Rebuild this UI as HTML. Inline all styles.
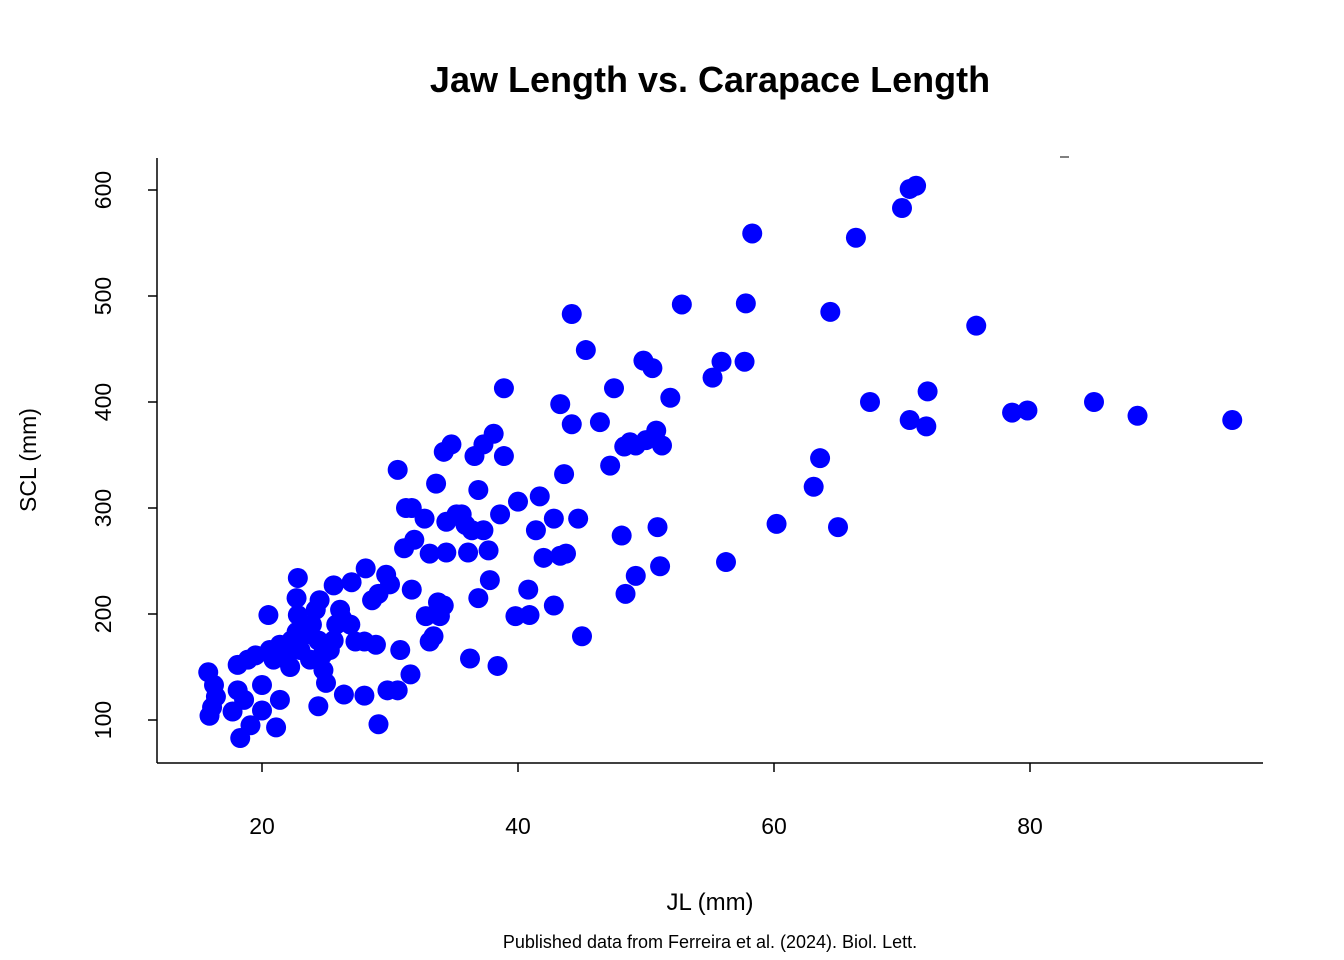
<!DOCTYPE html>
<html><head><meta charset="utf-8"><style>
html,body{margin:0;padding:0;background:#fff;}
svg{display:block;font-family:"Liberation Sans",Arial,sans-serif;}
</style></head><body>
<svg id="chart" width="1344" height="960" viewBox="0 0 1344 960" xmlns="http://www.w3.org/2000/svg">
<rect width="1344" height="960" fill="#fff"/>
<text x="710" y="92" text-anchor="middle" font-size="36" font-weight="bold">Jaw Length vs. Carapace Length</text>
<line x1="157" y1="763" x2="1263" y2="763" stroke="#000" stroke-width="1.5"/>
<line x1="157" y1="158" x2="157" y2="763" stroke="#000" stroke-width="1.5"/>
<line x1="1060" y1="157" x2="1069" y2="157" stroke="#000" stroke-width="1"/>
<g id="ticks"></g>
<g id="points"></g>
<text transform="translate(36,460) rotate(-90)" text-anchor="middle" font-size="23">SCL (mm)</text>
<text x="710" y="910" text-anchor="middle" font-size="24">JL (mm)</text>
<text x="710" y="948" text-anchor="middle" font-size="18">Published data from Ferreira et al. (2024). Biol. Lett.</text>
</svg>
<script>
const xTicks = [20, 40, 60, 80];
const yTicks = [100, 200, 300, 400, 500, 600];
const jl = [15.8,16.25,16.4,16.1,15.9,17.7,18.3,19.1,18.6,18.1,18.1,18.9,19.5,20,20,21.1,21.4,20.5,20.6,20.9,21.4,21.9,22.2,22.3,22.7,22.8,22.7,22.8,23.0,23.3,23.75,23.9,24.2,24.4,24.5,24.7,24.8,25.3,25.6,24.4,25.8,25.0,25.6,26.1,26.25,26.4,26.9,27.0,27.3,28.0,28.0,28.1,28.9,29.1,28.6,29.1,29.7,29.8,30.0,30.6,30.8,31.6,31.7,30.6,31.25,31.7,31.1,31.9,32.7,32.8,33.1,33.1,33.4,33.6,33.75,33.9,34.2,34.2,34.4,34.4,34.8,35.2,35.6,35.9,36.1,36.25,36.4,36.6,36.9,36.9,37.3,37.3,37.7,37.8,38.1,38.4,38.6,38.9,38.9,40,39.8,40.8,40.9,41.4,41.7,42.0,42.8,42.8,43.3,43.3,43.6,43.75,44.2,44.2,44.7,45,45.3,46.4,47.2,47.5,48.1,48.3,48.4,48.75,49.2,49.2,49.8,50,50.5,50.8,50.9,51.1,51.25,51.9,52.8,55.2,55.9,56.25,57.7,57.8,58.3,60.2,63.1,63.6,65,64.4,66.4,67.5,70,70.6,71.1,70.6,71.9,72.0,75.8,78.6,79.8,85,88.4,95.8,22.7,22.2];
const scl = [145,133,122,112,104,108,83,95,119,128,152,157,161,133,109,93,119,199,166,157,171,157,166,175,183,234,215,199,166,180,157,190,204,175,213,161,147,166,175,113,190,135,227,204,196,124,190,230,174,174,123,243,171,96,213,219,237,128,228,128,166,143,223,336,300,300,262,270,290,198,257,174,179,323,211,198,353,208,287,258,360,294,294,284,258,158,279,349,317,215,360,279,260,232,370,151,294,349,413,306,198,223,199,279,311,253,290,208,398,255,332,257,483,379,290,179,449,381,340,413,274,358,219,362,359,236,439,364,432,373,282,245,359,404,492,423,438,249,438,493,559,285,320,347,282,485,555,400,583,601,604,383,377,410,472,390,392,400,387,383,175,150];

const NS = "http://www.w3.org/2000/svg";
function xs(v){ return 262 + (v - 20) * 12.8; }
function ys(v){ return 720 - (v - 100) * 1.06; }

const tg = document.getElementById('ticks');
xTicks.forEach(t => {
  const l = document.createElementNS(NS,'line');
  l.setAttribute('x1', xs(t)); l.setAttribute('x2', xs(t));
  l.setAttribute('y1', 763); l.setAttribute('y2', 772);
  l.setAttribute('stroke','#000'); l.setAttribute('stroke-width','1.5');
  
  
  tg.appendChild(l);
  const tx = document.createElementNS(NS,'text');
  tx.setAttribute('x', xs(t)); tx.setAttribute('y', 834);
  tx.setAttribute('text-anchor','middle'); tx.setAttribute('font-size','23');
  tx.textContent = t;
  
  
  tg.appendChild(tx);
});
yTicks.forEach(t => {
  const l = document.createElementNS(NS,'line');
  l.setAttribute('x1', 148); l.setAttribute('x2', 157);
  l.setAttribute('y1', ys(t)); l.setAttribute('y2', ys(t));
  l.setAttribute('stroke','#000'); l.setAttribute('stroke-width','1.5');
  
  
  tg.appendChild(l);
  const tx = document.createElementNS(NS,'text');
  tx.setAttribute('transform', 'translate(111,' + ys(t) + ') rotate(-90)');
  tx.setAttribute('text-anchor','middle'); tx.setAttribute('font-size','23');
  tx.textContent = t;
  
  
  tg.appendChild(tx);
});
const pg = document.getElementById('points');
for (let i = 0; i < jl.length; i++) {
  const c = document.createElementNS(NS,'circle');
  c.setAttribute('cx', xs(jl[i])); c.setAttribute('cy', ys(scl[i]));
  c.setAttribute('r', 10); c.setAttribute('fill', '#0000ff');
  
  
  pg.appendChild(c);
}
</script>
</body></html>
